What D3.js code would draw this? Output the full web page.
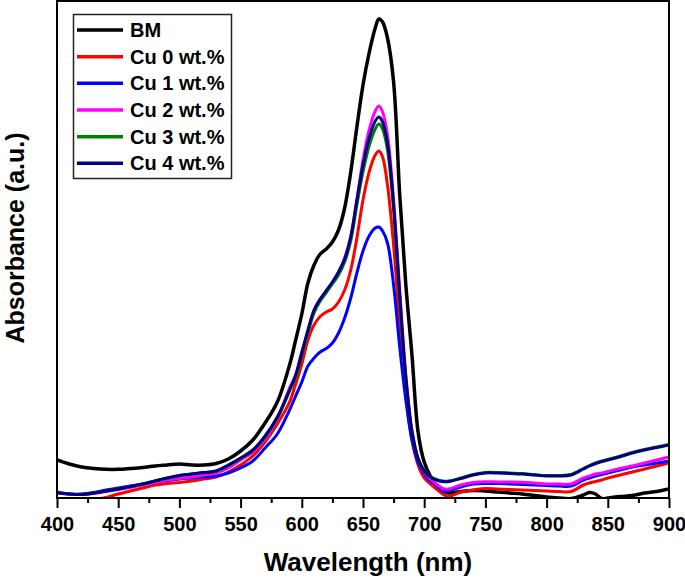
<!DOCTYPE html>
<html><head><meta charset="utf-8">
<script src="https://cdn.jsdelivr.net/npm/d3@7"></script>
<style>html,body{margin:0;padding:0;background:#fff;}svg{display:block;font-family:"Liberation Sans",Arial,sans-serif;}</style>
</head><body>
<svg id="chart" width="685" height="579"></svg>
<script>
// Wavelength grid (nm)
const wavelengths = [400,410,420,430,440,450,460,470,480,490,500,510,520,530,540,550,560,570,580,590,595,600,605,610,615,620,625,630,635,640,645,650,655,660,663,666,670,675,680,685,690,695,700,705,710,715,720,730,740,750,760,770,780,790,800,810,820,830,835,840,845,850,860,870,880,890,900];
// Absorbance (a.u.) per series
const bm   = [38,34,31,29.5,28.7,28.7,29.5,30.5,32,33,34,33,33,34.5,39,47,58,75,96,133,158,184,215,233,244,249,256,268,290,326,371,413,445,470,479,476,460,416,303,213,143,66,36,22,12,7,5,6.5,7.5,7,6,5,4,2.5,1,0,-0.5,3,5.5,4,-0.5,0,1.5,2.5,5,6.5,9];
const cu0  = [-1,-2,-2,-1.5,0.5,4,7,10,13,14.5,15.5,17,19,21,26,33,42,56,74,96,114,134,158,173,181.5,186,189,196,208,228,260,298,326,343,347,341,313,253,173,103,58,33,20,14,9,4,1.5,6,8,9.5,9,8.5,8,7.5,7,6.5,6.5,13,15,16.5,18,20,23,26,29,32,35];
const cu1  = [5,4,4,5.5,8,10,12,14,16,17.5,19,20,21,22,25,30,37,50,64,88,102,116,132,140,146,149.5,155,165,180,200,225,247,262,270,271,267,255,213,151,98,58,36,24,17,13,7,7.5,11,14,14.5,14.5,14,13.5,13,12.5,12,12,18,20,22,23.5,25,28,31,33,35,37];
const cu2  = [6,4,3.5,4.5,6.5,8.5,10.5,13,15.5,18,19.5,21,23,25,30,38,46,59,79,110,123,146,166,187,198,206.5,215,225.5,240,262,298,338,368,387,392,386,363,298,208,123,68,40,26,19,14,9.5,9,13,15.5,16.3,16,16,15.7,15,14,14,14,20,22,24,25,26.5,29.5,32,35,38,41];
const cu3  = [5,4,3.5,5,7,9,11.5,14,17,20,22.5,24,25.5,27,32.5,39.5,47.5,61,80,107,121,143,165,185,197,205.5,214,223,236,257,293,326,352,369,374,369,348,288,200,119,66,39.5,27.5,21.5,18.5,17,17,20,23.5,25.5,25.5,25,24.5,23.5,22.5,22.5,23.5,29.5,32.5,35,37,38.5,41.8,45.5,48.5,51,53.5];
const cu4  = [5.5,4,3.5,5,7,9,11.5,14,17,20,22.5,24,25.5,27,33,40,48,62,81,108,123,145,168,188,199,207.5,216,226,239,261,298,333,360,377,381,376,355,293,203,120,66,39,27,21,18,16.5,16.5,19.5,23,25,25,24.5,24,23,22,22,23,29,32,34.5,36.5,38,41.3,45,48,50.5,53];
const seriesNames  = ["BM","Cu 0 wt.%","Cu 1 wt.%","Cu 2 wt.%","Cu 3 wt.%","Cu 4 wt.%"];
const seriesValues = [bm, cu0, cu1, cu2, cu3, cu4];
const seriesColors = ["#000000","#ff0000","#0000ff","#ff00ff","#008000","#000080"];
const xTicks = [400,450,500,550,600,650,700,750,800,850,900];
const xMinorTicks = [425,475,525,575,625,675,725,775,825,875];

const svg = d3.select("#chart");
const L = 57, R = 669, T = 1, B = 498;
const x = d3.scaleLinear().domain([400, 900]).range([L, R]);
const y = d3.scaleLinear().domain([0, 497]).range([B, T]);

svg.append("defs").append("clipPath").attr("id","clip")
  .append("rect").attr("x", L).attr("y", T).attr("width", R - L).attr("height", B - T);

const line = d3.line().x((d,i) => x(wavelengths[i])).y(d => y(d)).curve(d3.curveCatmullRom.alpha(0.5));
const g = svg.append("g").attr("clip-path","url(#clip)");
seriesValues.forEach((vals, k) => {
  g.append("path").datum(vals).attr("d", line)
    .attr("fill","none").attr("stroke", seriesColors[k])
    .attr("stroke-width", k === 0 ? 3.5 : 3).attr("stroke-linejoin","round");
});

// x axis (major + minor)
const ax = svg.append("g").attr("transform", `translate(0,${B})`)
  .call(d3.axisBottom(x).tickValues(xTicks).tickSize(10).tickPadding(9).tickFormat(d3.format("d")));
ax.select(".domain").remove();
ax.selectAll(".tick line").attr("stroke","#000").attr("stroke-width",2);
ax.selectAll(".tick text").attr("font-size",20).attr("font-weight","bold").attr("fill","#000")
  .attr("font-family",'"Liberation Sans",Arial,sans-serif');
const axm = svg.append("g").attr("transform", `translate(0,${B})`)
  .call(d3.axisBottom(x).tickValues(xMinorTicks).tickSize(5).tickFormat(""));
axm.select(".domain").remove();
axm.selectAll(".tick line").attr("stroke","#000").attr("stroke-width",2);

// frame
svg.append("rect").attr("x", L).attr("y", T).attr("width", R - L).attr("height", B - T)
  .attr("fill","none").attr("stroke","#000").attr("stroke-width",2);

// axis titles
svg.append("text").attr("x", 368).attr("y", 571).attr("text-anchor","middle")
  .attr("font-size",26).attr("font-weight","bold").text("Wavelength (nm)");
svg.append("text").attr("transform","translate(24,238) rotate(-90)").attr("text-anchor","middle")
  .attr("font-size",25).attr("font-weight","bold").text("Absorbance (a.u.)");

// legend
const lg = svg.append("g");
lg.append("rect").attr("x",73.5).attr("y",14.5).attr("width",158).attr("height",164)
  .attr("fill","#fff").attr("stroke","#222").attr("stroke-width",1.5);
seriesNames.forEach((n, k) => {
  const yy = 30 + k * 26.67;
  lg.append("line").attr("x1",77).attr("x2",123).attr("y1",yy).attr("y2",yy)
    .attr("stroke", seriesColors[k]).attr("stroke-width",3.5);
  lg.append("text").attr("x",130).attr("y",yy + 7).attr("font-size",20).attr("font-weight","bold")
    .attr("fill","#000").text(n);
});
</script>
</body></html>
